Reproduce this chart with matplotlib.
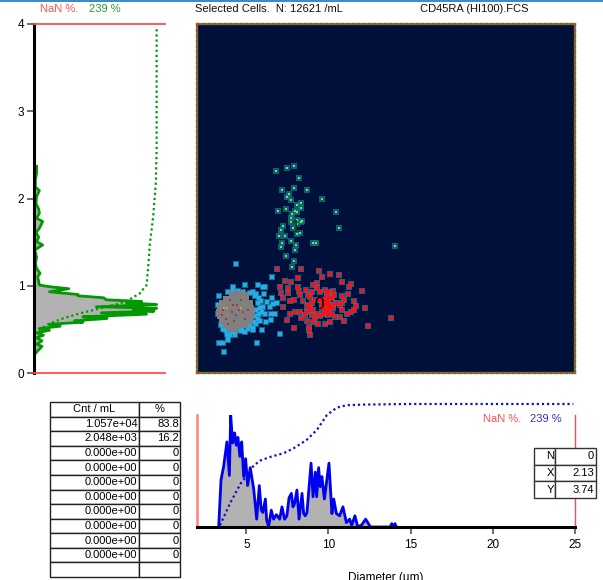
import matplotlib
matplotlib.use("Agg")
import matplotlib.pyplot as plt

plt.rcParams['font.family'] = ['Liberation Sans', 'DejaVu Sans']
plt.rcParams['font.size'] = 8

W, H = 603, 580

# diameter histogram (um, fraction of peak)
diam_x = [3.32, 3.46, 3.62, 3.82, 3.97, 4.05, 4.17, 4.29, 4.39, 4.49, 4.61, 4.72, 4.84, 4.96, 5.08, 5.24,
          5.45, 5.63, 5.79, 5.91, 6.01, 6.16, 6.24, 6.36, 6.52, 6.66, 6.83, 7.03, 7.17, 7.33, 7.47, 7.6,
          7.74, 7.84, 7.94, 8.08, 8.21, 8.39, 8.49, 8.59, 8.69, 8.94, 9.06, 9.2, 9.28, 9.4, 9.5, 9.6,
          9.75, 10.03, 10.21, 10.32, 10.48, 10.68, 10.88, 11.09, 11.29, 11.41, 11.61, 11.78, 12.03, 12.26,
          12.47, 12.55, 13.76, 13.85, 13.95, 14.04, 14.14]
diam_y = [0, .42, .54, .76, .46, 1.0, .75, .84, .73, .80, .63, .76, .45, .61, .37, .53,
          .34, .07, .37, .15, .13, .25, .06, .005, .15, .07, .11, .07, .18, .07, .10, .26,
          .30, .18, .21, .33, .07, .30, .12, .10, .13, .57, .27, .49, .27, .53, .36, .45,
          .25, .57, .12, .25, .12, .10, .18, .04, .07, .015, .10, 0, .02, .07,
          .02, 0, 0, .03, 0, .03, 0]
diam_cum_x = [3.4, 4.0, 4.64, 5.04, 5.45, 5.85, 6.46, 7.27, 7.88, 8.69, 9.3, 9.9, 10.5, 11.1, 12.1, 14.9, 24.9]
diam_cum_y = [.014, .19, .35, .42, .5, .54, .57, .60, .64, .71, .79, .91, .97, .99, .995, 1.0, 1.0]

# side histogram (value on y axis, fraction of width)
side_y = [.215, .306, .33, .368, .406, .433, .46, .49, .51, .536, .559, .582, .598, .625, .644, .674, .69,
          .709, .728, .743, .759, .785, .805, .82, .839, .862, .885, .9, .931, .966, .989, 1.008, 1.046,
          1.103, 1.142, 1.199, 1.257, 1.326, 1.41, 1.467, 1.506, 1.556, 1.609, 1.659, 1.736, 1.774, 1.831,
          1.877, 1.946, 2.023, 2.092, 2.13, 2.215, 2.291, 2.368]
side_x = [.005, .061, .02, .061, .02, .072, .02, .118, .041, .2, .118, .373, .309, .558, .373, .859, .514,
          .916, .757, .936, .476, .936, .706, .821, .552, .532, .335, .335, .118, .266, .118, .041, .036,
          .028, .046, .02, .01, .02, .005, .066, .02, .036, .015, .041, .066, .02, .041,
          .036, .015, .02, .041, .01, .01, .02, .02]
side_cum_y = [.49, .567, .625, .682, .739, .797, .835, .912, 1.008, 1.218, 1.487, 1.793, 2.176, 2.559, 3.0, 3.94]
side_cum_x = [.036, .118, .22, .348, .501, .655, .719, .808, .859, .872, .885, .91, .93, .936, .936, .936]

# scatter clusters
green_x = [6.79, 7.50, 7.88, 8.23, 7.88, 7.15, 8.69, 7.60, 7.48, 7.70, 9.63, 8.33, 8.06, 7.42, 6.95, 7.96, 8.09,
           8.33, 10.44, 7.76, 7.72, 7.70, 8.06, 8.41, 8.33, 10.64, 7.21, 7.11, 7.82, 8.11, 8.06, 8.27, 6.97, 7.33,
           7.70, 9.04, 9.24, 7.15, 7.11, 8.04, 7.98, 14.05, 7.44, 7.88, 7.80]
green_y = [2.32, 2.35, 2.37, 2.24, 2.12, 2.10, 2.10, 2.05, 2.02, 1.98, 2.00, 1.95, 1.93, 1.88, 1.86, 1.86, 1.85,
           1.89, 1.85, 1.82, 1.78, 1.73, 1.75, 1.74, 1.73, 1.66, 1.68, 1.64, 1.66, 1.71, 1.59, 1.60, 1.57, 1.57,
           1.51, 1.49, 1.49, 1.49, 1.44, 1.47, 1.41, 1.46, 1.34, 1.28, 1.21]

red_x = [6.85, 7.33, 7.70, 7.05, 7.51, 7.51, 7.13, 8.16, 8.33, 9.42, 10.09, 10.64, 10.82, 11.37, 11.27, 9.58, 9.28,
         9.08, 12.02, 11.19, 11.57, 11.67, 11.55, 12.22, 10.80, 10.94, 10.80, 10.82, 11.11, 11.35, 13.78, 12.40,
         10.94, 10.70, 10.40, 10.09, 9.81, 9.34, 9.08, 8.67, 8.31, 7.49, 7.90, 8.87, 8.83, 8.79, 7.66, 7.96, 8.27,
         7.21, 7.21, 7.66, 7.90, 8.47, 8.67, 8.27, 8.63, 8.16, 8.23, 8.77, 8.98, 9.28, 9.48, 9.79, 9.99, 10.29,
         10.33, 10.05, 10.46, 10.70, 9.89, 9.99, 9.89, 9.93, 9.79, 9.69, 9.99, 10.09, 9.48, 9.18, 8.98, 8.77, 8.87,
         9.08, 9.28, 9.48, 8.98, 9.18, 8.67, 8.57, 10.19, 10.29, 9.58, 9.69, 10.19, 8.87, 9.85, 9.95, 10.0, 9.8,
         9.9, 9.9, 9.95, 9.7, 10.15, 10.25, 9.6, 9.75]
red_y = [1.19, 1.06, 1.04, .99, .97, .92, .92, 1.09, 1.19, 1.17, 1.13, 1.12, 1.04, 1.02, .98, 1.10, 1.03,
         1.01, .94, .90, .83, .77, .72, .74, .88, .84, .80, .72, .68, .70, .63, .54,
         .60, .64, .64, .58, .56, .56, .59, .60, .63, .61, .52, .44, .49, .53, .68, .70, .70,
         .76, .86, .83, .84, .82, .76, .89, .95, .99, .94, .89, .93, .97, .93, .95, .93, .94,
         .89, .87, .80, .78, .87, .84, .80, .76, .72, .68, .72, .78, .84, .84, .80, .78, .74,
         .72, .68, .65, .66, .63, .70, .66, .68, .74, .78, .82, .86, .87, .78, .80, .76, .76,
         .70, .91, .66, .78, .76, .78, .74, .84]

blue_x = [4.37, 6.58, 4.92, 5.73, 6.0, 6.14, 4.17, 6.08, 6.54, 6.65, 6.89, 6.5, 6.75, 6.5, 6.2, 5.94, 5.39, 4.72, 7.05,
          5.65, 3.34, 3.6, 3.64, 3.91, 4.0, 3.36, 3.3, 3.3, 3.5, 3.7, 4.31, 6.14, 6.44, 6.28,
          5.4, 5.6, 5.75, 5.9, 5.5, 5.7, 6.0, 5.85, 5.6, 5.75, 5.95, 5.5, 5.7, 5.85, 5.45, 5.6, 5.25, 5.4, 5.1, 4.9,
          3.9, 4.2, 4.5, 4.8, 5.2, 3.45, 3.6, 3.8, 3.9, 4.1, 4.3, 4.5, 4.7]
blue_y = [1.25, 1.10, 1.01, 1.01, .98, .98, .99, .91, .86, .79, .80, .68, .68, .61, .59, .49, .49, .51, .45,
          .34, .34, .34, .24, .38, .44, .88, .78, .68, .57, .49, .44, .68, .76, .81,
          .93, .90, .86, .82, .88, .80, .76, .74, .72, .68, .70, .65, .62, .60, .58, .56, .54, .52, .50, .47,
          .93, .95, .94, .93, .92, .55, .50, .45, .42, .47, .48, .50, .48]
# dense middle of the same cluster
dense_x = [4.1, 4.35, 4.6, 5.0,
           3.75, 4.0, 4.25, 4.5, 4.75, 5.0,
           3.5, 3.75, 4.0, 4.25, 4.5, 4.75, 5.0, 5.2,
           3.4, 3.65, 3.9, 4.15, 4.4, 4.65, 4.9, 5.15, 5.3,
           3.35, 3.6, 3.85, 4.1, 4.35, 4.6, 4.85, 5.1, 5.35,
           3.4, 3.65, 3.9, 4.15, 4.4, 4.65, 4.9, 5.15, 5.3,
           3.5, 3.75, 4.0, 4.25, 4.5, 4.75, 5.0, 5.2,
           3.75, 4.0, 4.25, 4.5, 4.7, 4.9,
           4.0, 4.2, 4.4]
dense_y = [.90, .90, .90, .89,
           .85, .85, .85, .85, .85, .85,
           .80, .80, .80, .80, .80, .80, .80, .80,
           .75, .75, .75, .75, .75, .75, .75, .75, .75,
           .70, .70, .70, .70, .70, .70, .70, .70, .70,
           .65, .65, .65, .65, .65, .65, .65, .65, .65,
           .60, .60, .60, .60, .60, .60, .60, .60,
           .55, .55, .55, .55, .55, .55,
           .50, .50, .50]
speck_x = [3.6, 3.75, 4.0, 4.2, 4.35, 4.55, 4.7, 4.9, 3.9, 4.1, 4.45, 5.1, 3.55, 4.25, 4.8]
speck_y = [.72, .62, .84, .78, .66, .72, .84, .62, .56, .70, .78, .72, .66, .60, .70]
speck_gold_x = [3.65, 3.8, 4.65]
speck_gold_y = [.74, .75, .75]

yticks = [0, 1, 2, 3, 4]
xticks = [5, 10, 15, 20, 25]

table_head = ['Cnt / mL', '%']
table_cnt = ['1.057e+04', '2.048e+03', '0.000e+00', '0.000e+00', '0.000e+00', '0.000e+00',
             '0.000e+00', '0.000e+00', '0.000e+00', '0.000e+00', '']
table_pct = ['83.8', '16.2', '0', '0', '0', '0', '0', '0', '0', '0', '']
nxy_names = ['N', 'X', 'Y']
nxy_vals = ['0', '2.13', '3.74']

RED = '#ff4d4d'
GREEN = '#009a00'
BLUE = '#0000f0'
GREY = '#b2b2b2'
TICK = '#555555'


def px_axes(left, top, right, bottom):
    return fig.add_axes([left / W, 1 - bottom / H, (right - left) / W, (bottom - top) / H])


def px_text(x, y, s, **kw):
    fig.text(x / W, 1 - y / H, s, va='center', **kw)


fig = plt.figure(figsize=(W / 100, H / 100), dpi=100)

# blue strip along the top edge
fig.add_artist(plt.Rectangle((0, 1 - 2 / H), 1, 2 / H, transform=fig.transFigure, color='#3a8ccb', lw=0))

# --- side histogram ---
ax = px_axes(34, 24, 165, 373)
ax.fill_betweenx(side_y, 0, side_x, color=GREY, lw=0)
ax.plot(side_x, side_y, color=GREEN, lw=2)
ax.plot(side_cum_x, side_cum_y, color=GREEN, lw=1.6, ls=(0, (1, 1.3)))
ax.set_xlim(0, 1)
ax.set_ylim(0, 4)
ax.set_xticks([])
ax.set_yticks(yticks)
ax.tick_params(axis='y', length=5, width=1.2, color=TICK, pad=2, labelsize=8.5)
ax.spines['right'].set_visible(False)
ax.spines['left'].set_linewidth(2.2)
ax.spines['top'].set_color(RED)
ax.spines['bottom'].set_color(RED)
ax.spines['top'].set_linewidth(1.3)
ax.spines['bottom'].set_linewidth(1.3)

# --- scatter ---
ax = px_axes(197, 24, 575, 373)
ax.set_facecolor('#00103a')
ax.scatter(blue_x + dense_x, blue_y + dense_y, s=16, marker='s', color='#2a86ad', alpha=.7, lw=0)
ax.scatter(red_x, red_y, s=16, marker='s', color='#1d86b8', alpha=.7, lw=0)
ax.scatter(green_x, green_y, s=16, marker='s', color='#11708f', alpha=.8, lw=0)
ax.scatter(blue_x, blue_y, s=5, marker='s', color='#22aee8', lw=0)
ax.scatter(dense_x, dense_y, s=24, marker='s', color='#808080', lw=0)
ax.scatter(speck_x, speck_y, s=2, marker='s', color='#a8383f', lw=0)
ax.scatter(speck_gold_x, speck_gold_y, s=2, marker='s', color='#d0a030', lw=0)
ax.scatter(red_x, red_y, s=5, marker='s', color='#ff1010', lw=0)
ax.scatter(green_x, green_y, s=4, marker='s', color='#70f020', lw=0)
ax.text(9.42, .79, '0', fontsize=12.5, ha='center', va='center', color='black')
ax.text(7.97, 1.67, '1', fontsize=12.5, ha='center', va='center', color='#0a3a20')
ax.set_xlim(2, 25)
ax.set_ylim(0, 4)
ax.set_xticks([])
ax.set_yticks([])
for s in ax.spines.values():
    s.set_color('#30a030')
    s.set_linewidth(1.6)
for x0, y0, x1, y1 in [(0, 0, 1, 0), (0, 1, 1, 1), (0, 0, 0, 1), (1, 0, 1, 1)]:
    ax.plot([x0, x1], [y0, y1], transform=ax.transAxes, color='#e03030', lw=1.6,
            ls=(0, (1.2, 1.2)), clip_on=False, zorder=5)

# --- diameter histogram ---
ax = px_axes(197, 415, 575, 527)
ax.fill_between(diam_x, 0, diam_y, color=GREY, lw=0)
ax.plot(diam_x, diam_y, color=BLUE, lw=2)
ax.set_xlim(2, 25)
ax.set_ylim(0, 1)
ax.set_xticks(xticks)
ax.set_yticks([])
ax.tick_params(axis='x', length=5, width=1.2, color=TICK, pad=4, labelsize=8.5)
ax.set_xlabel('Diameter (µm)', fontsize=8.5, labelpad=15)
ax.spines['top'].set_visible(False)
ax.spines['bottom'].set_linewidth(2.2)
ax.spines['left'].set_color('#ff8080')
ax.spines['left'].set_linewidth(1.8)
ax.spines['right'].set_color(RED)
ax.spines['right'].set_linewidth(1)

# cumulative curve runs a little above the histogram panel
ax = px_axes(197, 404, 575, 527)
ax.patch.set_alpha(0)
ax.plot(diam_cum_x, diam_cum_y, color='#1010d0', lw=1.6, ls=(0, (1, 1.3)), clip_on=False)
ax.set_xlim(2, 25)
ax.set_ylim(0, 1)
ax.axis('off')

# --- header and notes ---
px_text(40, 9, 'NaN %.', color=RED)
px_text(89, 9, '239 %', color='#2a9a3a')
px_text(195, 9, 'Selected Cells.  N: 12621 /mL', color='#111111')
px_text(420, 9, 'CD45RA (HI100).FCS', color='#111111')
px_text(483, 419, 'NaN %.', color=RED)
px_text(530, 419, '239 %', color='#3030c0')

# --- tables ---
ax = px_axes(50, 402, 180, 577)
ax.axis('off')
rows = [[c, p] for c, p in zip(table_cnt, table_pct)]
tb = ax.table(cellText=[table_head] + rows, bbox=[0, 0, 1, 1], colWidths=[89 / 130, 41 / 130], cellLoc='right')
tb.auto_set_font_size(False)
tb.set_fontsize(8)
for (r, c), cell in tb.get_celld().items():
    cell.set_edgecolor('#222222')
    cell.set_linewidth(1)
    cell.PAD = 0.02
    if r == 0:
        cell.get_text().set_ha('center')
        cell._loc = 'center'

ax = px_axes(534, 448, 596, 498)
ax.axis('off')
tb = ax.table(cellText=[[n, v] for n, v in zip(nxy_names, nxy_vals)], bbox=[0, 0, 1, 1],
              colWidths=[21 / 62, 41 / 62], cellLoc='right')
tb.auto_set_font_size(False)
tb.set_fontsize(8)
for (r, c), cell in tb.get_celld().items():
    cell.set_edgecolor('#333333')
    cell.set_linewidth(1)
    cell.set_facecolor('white')
    cell.PAD = 0.05

fig.savefig('out.png', dpi=100)
